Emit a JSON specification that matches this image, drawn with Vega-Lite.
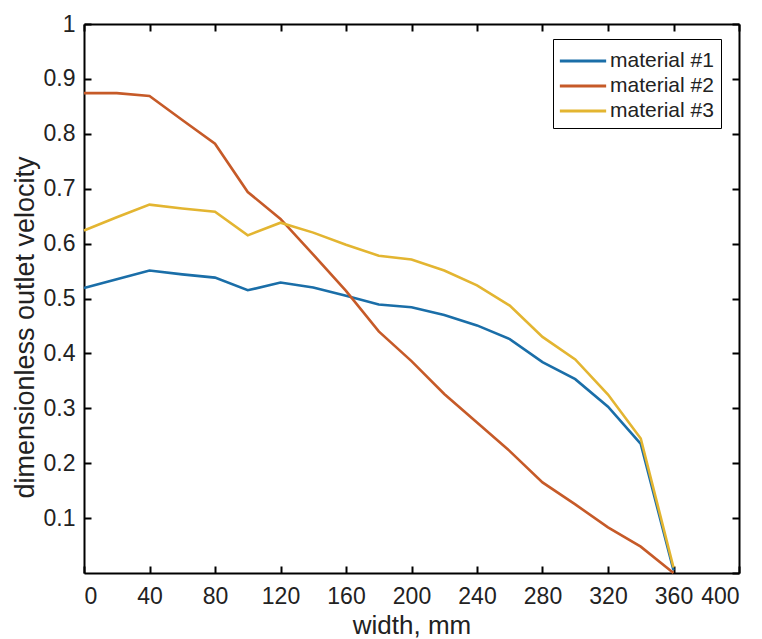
{
  "$schema": "https://vega.github.io/schema/vega-lite/v6.json",
  "width": 655,
  "height": 549,
  "autosize": "none",
  "padding": {"left": 84, "top": 24, "right": 23, "bottom": 66},
  "background": "white",
  "config": {
    "view": {"stroke": null},
    "font": "Liberation Sans",
    "axis": {
      "domainColor": "black",
      "domainWidth": 2,
      "tickColor": "black",
      "tickWidth": 2,
      "tickSize": -7,
      "grid": false
    }
  },
  "data": {
    "values": [
      {"w": 0, "v": 0.519, "m": "material #1"},
      {"w": 20, "v": 0.535, "m": "material #1"},
      {"w": 40, "v": 0.551, "m": "material #1"},
      {"w": 60, "v": 0.544, "m": "material #1"},
      {"w": 80, "v": 0.538, "m": "material #1"},
      {"w": 100, "v": 0.515, "m": "material #1"},
      {"w": 120, "v": 0.529, "m": "material #1"},
      {"w": 140, "v": 0.52, "m": "material #1"},
      {"w": 160, "v": 0.505, "m": "material #1"},
      {"w": 180, "v": 0.489, "m": "material #1"},
      {"w": 200, "v": 0.484, "m": "material #1"},
      {"w": 220, "v": 0.47, "m": "material #1"},
      {"w": 240, "v": 0.451, "m": "material #1"},
      {"w": 260, "v": 0.426, "m": "material #1"},
      {"w": 280, "v": 0.384, "m": "material #1"},
      {"w": 300, "v": 0.353, "m": "material #1"},
      {"w": 320, "v": 0.303, "m": "material #1"},
      {"w": 340, "v": 0.235, "m": "material #1"},
      {"w": 360, "v": 0.005, "m": "material #1"},
      {"w": 0, "v": 0.874, "m": "material #2"},
      {"w": 20, "v": 0.874, "m": "material #2"},
      {"w": 40, "v": 0.869, "m": "material #2"},
      {"w": 60, "v": 0.825, "m": "material #2"},
      {"w": 80, "v": 0.782, "m": "material #2"},
      {"w": 100, "v": 0.694, "m": "material #2"},
      {"w": 120, "v": 0.645, "m": "material #2"},
      {"w": 140, "v": 0.58, "m": "material #2"},
      {"w": 160, "v": 0.514, "m": "material #2"},
      {"w": 180, "v": 0.44, "m": "material #2"},
      {"w": 200, "v": 0.386, "m": "material #2"},
      {"w": 220, "v": 0.326, "m": "material #2"},
      {"w": 240, "v": 0.274, "m": "material #2"},
      {"w": 260, "v": 0.222, "m": "material #2"},
      {"w": 280, "v": 0.165, "m": "material #2"},
      {"w": 300, "v": 0.125, "m": "material #2"},
      {"w": 320, "v": 0.083, "m": "material #2"},
      {"w": 340, "v": 0.048, "m": "material #2"},
      {"w": 360, "v": 0.0, "m": "material #2"},
      {"w": 0, "v": 0.624, "m": "material #3"},
      {"w": 20, "v": 0.648, "m": "material #3"},
      {"w": 40, "v": 0.671, "m": "material #3"},
      {"w": 60, "v": 0.664, "m": "material #3"},
      {"w": 80, "v": 0.658, "m": "material #3"},
      {"w": 100, "v": 0.615, "m": "material #3"},
      {"w": 120, "v": 0.638, "m": "material #3"},
      {"w": 140, "v": 0.62, "m": "material #3"},
      {"w": 160, "v": 0.598, "m": "material #3"},
      {"w": 180, "v": 0.578, "m": "material #3"},
      {"w": 200, "v": 0.571, "m": "material #3"},
      {"w": 220, "v": 0.551, "m": "material #3"},
      {"w": 240, "v": 0.524, "m": "material #3"},
      {"w": 260, "v": 0.487, "m": "material #3"},
      {"w": 280, "v": 0.43, "m": "material #3"},
      {"w": 300, "v": 0.389, "m": "material #3"},
      {"w": 320, "v": 0.325, "m": "material #3"},
      {"w": 340, "v": 0.245, "m": "material #3"},
      {"w": 360, "v": 0.01, "m": "material #3"}
    ]
  },
  "layer": [
    {
      "mark": {"type": "line", "strokeWidth": 2.6},
      "encoding": {
        "x": {
          "field": "w", "type": "quantitative",
          "scale": {"domain": [0, 400], "nice": false, "zero": false},
          "axis": {"orient": "bottom", "values": [0, 40, 80, 120, 160, 200, 240, 280, 320, 360, 400], "title": "width, mm",
            "labelFont": "Liberation Sans", "labelFontSize": 23, "labelColor": "#222", "labelPadding": 19,
            "titleFont": "Liberation Sans", "titleFontSize": 26, "titleFontWeight": "normal", "titleColor": "#222", "titlePadding": 4}
        },
        "y": {
          "field": "v", "type": "quantitative",
          "scale": {"domain": [0, 1], "nice": false},
          "axis": {"orient": "left", "values": [0.1, 0.2, 0.3, 0.4, 0.5, 0.6, 0.7, 0.8, 0.9, 1], "format": ".1~f", "title": "dimensionless outlet velocity",
            "labelFont": "Liberation Sans", "labelFontSize": 23, "labelColor": "#222", "labelPadding": 16,
            "titleFont": "Liberation Sans", "titleFontSize": 27, "titleFontWeight": "normal", "titleColor": "#222", "titlePadding": 4, "titleY": 303}
        },
        "color": {
          "field": "m", "type": "nominal",
          "scale": {"domain": ["material #1", "material #2", "material #3"], "range": ["#1a6ea8", "#c65a28", "#e3b531"]},
          "legend": {
            "orient": "none", "legendX": 469, "legendY": 15, "title": null,
            "strokeColor": "black", "fillColor": "white", "padding": 7,
            "symbolType": "M-1.75,0H1.75", "symbolSize": 700, "symbolStrokeWidth": 3, "symbolOffset": 8,
            "labelFont": "Liberation Sans", "labelFontSize": 21, "labelColor": "#222", "labelOffset": 12, "rowPadding": 0
          }
        }
      }
    },
    {
      "mark": {"type": "line", "opacity": 0},
      "encoding": {
        "x": {
          "field": "w", "type": "quantitative",
          "axis": {"orient": "top", "values": [0, 40, 80, 120, 160, 200, 240, 280, 320, 360, 400], "labels": false, "title": null}
        },
        "y": {
          "field": "v", "type": "quantitative",
          "axis": {"orient": "right", "values": [0, 0.1, 0.2, 0.3, 0.4, 0.5, 0.6, 0.7, 0.8, 0.9, 1], "labels": false, "title": null}
        },
        "detail": {"field": "m", "type": "nominal"}
      }
    }
  ],
  "resolve": {"axis": {"x": "independent", "y": "independent"}}
}
